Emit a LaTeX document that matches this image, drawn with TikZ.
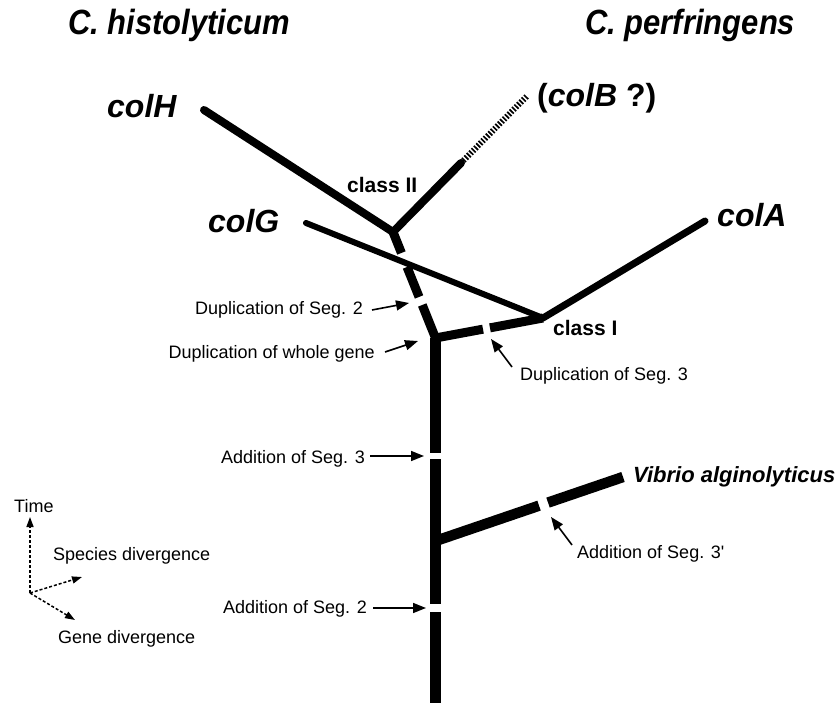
\documentclass[tikz,border=0pt]{standalone}
\usepackage{fontspec}
\setmainfont{Liberation Sans}
\usetikzlibrary{arrows.meta}
\begin{document}
\begin{tikzpicture}[x=1pt,y=-1pt,
  title/.style={font=\fontsize{35}{37}\selectfont\bfseries\itshape, inner sep=0pt, anchor=base west},
  gene/.style={font=\fontsize{32}{34}\selectfont\bfseries\itshape, inner sep=0pt, anchor=base west},
  cls/.style={font=\fontsize{21}{23}\selectfont\bfseries, inner sep=0pt, anchor=base west},
  lbl/.style={font=\fontsize{18}{20}\selectfont, inner sep=0pt},
  ptr/.style={-{Triangle[length=13pt,width=10pt]}, line width=1.6pt},
  axisarrow/.style={dash pattern=on 3pt off 2pt, line width=1.5pt, -{Triangle[length=10pt,width=7pt]}},
  limb/.style={line width=#1, line cap=butt, line join=miter},
]
\useasboundingbox (0,0) rectangle (838,703);

% junctions and ends
\coordinate (C2) at (393,232);
\coordinate (T) at (435.5,338);
\coordinate (C1) at (543,318);
\coordinate (V) at (435.5,541);
\coordinate (bot) at (435.5,703);
\coordinate (Hend) at (204,110);
\coordinate (Gend) at (306,223);
\coordinate (Aend) at (705,221);
\coordinate (Bmid) at (461,163);
\coordinate (Bend) at (527,96);
\coordinate (Vend) at (623,477);

% tree
\draw[line width=8pt, line cap=round, line join=miter] (Hend) -- (C2) -- (Bmid);
\draw[line width=6pt, dash pattern=on 1.7pt off 1.7pt] (Bmid) -- (Bend);
\draw[limb=9pt, dash pattern=on 22.6pt off 15.1pt on 32.3pt off 8.6pt on 40pt off 0pt] (C2) -- (T);
\draw[limb=11pt, dash pattern=on 115pt off 6pt on 145pt off 8pt on 200pt] (T) -- (bot);
\draw[limb=9pt, dash pattern=on 48.3pt off 7.1pt on 70pt] (T) -- (C1);
\draw[line width=7pt, line cap=round] (C1) -- (Aend);
\draw[line width=6pt, line cap=round] (Gend) -- (C1);
\draw[limb=10.5pt, dash pattern=on 109.4pt off 9.5pt on 100pt] (V) -- (Vend);
\fill (T) circle (4.5pt);

% titles and gene names
\node[title] (tH) at (68,35) {\scalebox{0.885}[1]{C. histolyticum}};
\node[title] (tP) at (585,35) {\scalebox{0.885}[1]{C. perfringens}};
\node[gene] (nH) at (107,118) {colH};
\node[gene] (nG) at (208,233) {colG};
\node[gene] (nA) at (717,227) {colA};
\node[gene] (nB) at (537,107) {{\upshape(}colB{\upshape\ ?)}};
\node[gene, font=\fontsize{22}{24}\selectfont\bfseries\itshape] (nV) at (633,482) {Vibrio alginolyticus};
\node[cls] (c2) at (347,193) {class II};
\node[cls] (c1) at (553,336) {class I};

% event labels
\node[lbl, anchor=base east] (d2) at (363,315) {Duplication of Seg. 2};
\node[lbl, anchor=base east] (dw) at (375,358) {Duplication of whole gene};
\node[lbl, anchor=base west] (d3) at (520,380) {Duplication of Seg. 3};
\node[lbl, anchor=base east] (a3) at (365,463) {Addition of Seg. 3};
\node[lbl, anchor=base east] (a2) at (367,613) {Addition of Seg. 2};
\node[lbl, anchor=base west] (a3p) at (577,558) {Addition of Seg. 3\textquotesingle};

\coordinate (p1s) at (372,310); \coordinate (p1e) at (409,303);
\coordinate (p2s) at (385,352); \coordinate (p2e) at (418,341);
\coordinate (p3s) at (512,367); \coordinate (p3e) at (491,339);
\coordinate (p4s) at (370,456); \coordinate (p4e) at (424,456);
\coordinate (p5s) at (373,608); \coordinate (p5e) at (426,608);
\coordinate (p6s) at (572,545); \coordinate (p6e) at (551,517);
\draw[ptr] (p1s) -- (p1e);
\draw[ptr] (p2s) -- (p2e);
\draw[ptr] (p3s) -- (p3e);
\draw[ptr] (p4s) -- (p4e);
\draw[ptr] (p5s) -- (p5e);
\draw[ptr] (p6s) -- (p6e);

% axes legend
\coordinate (O) at (30,593);
\coordinate (Otime) at (30,517);
\coordinate (Ospec) at (82,577);
\coordinate (Ogene) at (75,620);
\draw[axisarrow] (O) -- (Otime);
\draw[axisarrow] (O) -- (Ospec);
\draw[axisarrow] (O) -- (Ogene);
\node[lbl, anchor=base west] (time) at (14,512) {Time};
\node[lbl, anchor=base west] (spec) at (53,560) {Species divergence};
\node[lbl, anchor=base west] (gene) at (58,643) {Gene divergence};
\end{tikzpicture}
\end{document}
